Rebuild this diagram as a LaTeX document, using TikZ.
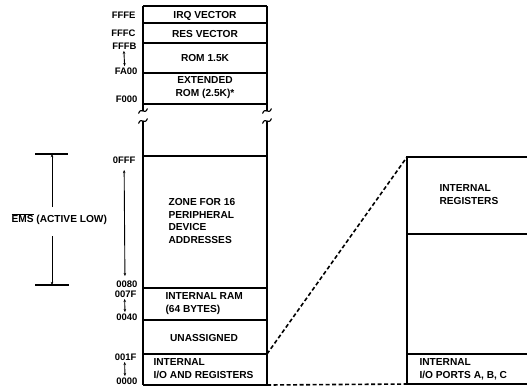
\documentclass[tikz,border=0pt]{standalone}
\usepackage{fontspec}
\setmainfont{Liberation Sans}
\usetikzlibrary{arrows.meta}
\begin{document}
\begin{tikzpicture}[x=1bp,y=-1bp,
  every path/.style={line width=1.1bp},
  txt/.style={font=\fontsize{10.2}{13}\selectfont\bfseries, inner sep=0pt},
  addr/.style={font=\fontsize{9.5}{10}\selectfont\bfseries, inner sep=0pt, anchor=east},
  dbl/.style={{Stealth[length=3.2bp,width=2.6bp]}-{Stealth[length=3.2bp,width=2.6bp]}, line width=0.9bp},
  sgl/.style={-{Stealth[length=3.2bp,width=2.6bp]}, line width=0.9bp},
  dashln/.style={dash pattern=on 4bp off 2.5bp, line width=1.6bp},
  brk/.pic={\draw[line width=1.1bp] (-4.5,2.5) .. controls (-1.5,-5) and (1.5,5) .. (4.5,-2.5);}
]
\useasboundingbox (0,0) rectangle (527,388);

% main column coordinates
\coordinate (tl) at (143,6);   \coordinate (tr) at (267,6);
\coordinate (bl) at (143,385); \coordinate (br) at (267,385);
\coordinate (l1) at (143,111); \coordinate (r1) at (267,111);
\coordinate (l2) at (143,121); \coordinate (r2) at (267,121);

% outer sides with break
\draw (tl) -- (l1);
\draw (tr) -- (r1);
\draw (l2) -- (bl);
\draw (r2) -- (br);
\pic at (l1) {brk};
\pic at (r1) {brk};
\pic at (l2) {brk};
\pic at (r2) {brk};
\draw (tl) -- (tr);
\draw (bl) -- (br);

% horizontal dividers
\foreach \y/\n in {23/a,43/b,73/c,104/d,156/e,288/f,320/g,354/h}{
  \coordinate (dl\n) at (143,\y); \coordinate (dr\n) at (267,\y);
  \draw (dl\n) -- (dr\n);
}

% box texts
\node[txt] (irq) at (205,15.5) {IRQ VECTOR};
\node[txt] (res) at (205,33.5) {RES VECTOR};
\node[txt] (rom) at (205,57.5) {ROM 1.5K};
\node[txt, align=center] (ext) at (205,88) {EXTENDED\\ROM (2.5K)*};
\node[txt, align=left, anchor=west, font=\fontsize{10.2}{12.7}\selectfont\bfseries] (zone) at (168,221) {ZONE FOR 16\\PERIPHERAL\\DEVICE\\ADDRESSES};
\node[txt, align=left, anchor=west] (ram) at (165,303.5) {INTERNAL RAM\\(64 BYTES)};
\node[txt] (unas) at (204,338) {UNASSIGNED};
\node[txt, align=left, anchor=west] (io) at (153,368.5) {INTERNAL\\I/O AND REGISTERS};

% addresses
\node[addr] (aFFFE) at (136,15) {FFFE};
\node[addr] (aFFFC) at (136,33) {FFFC};
\node[addr] (aFFFB) at (137,46) {FFFB};
\node[addr] (aFA00) at (138,71) {FA00};
\node[addr] (aF000) at (138,99) {F000};
\node[addr] (a0FFF) at (136,160) {0FFF};
\node[addr] (a0080) at (138,284) {0080};
\node[addr] (a007F) at (137,294) {007F};
\node[addr] (a0040) at (138,317) {0040};
\node[addr] (a001F) at (137,357) {001F};
\node[addr] (a0000) at (138,381) {0000};

\draw[dbl] ([xshift=-0.5bp,yshift=-1bp]aFFFB.south) -- ([xshift=-1.5bp,yshift=1bp]aFA00.north);
\draw[dbl] ([xshift=-1bp,yshift=-1bp]a007F.south) -- ([xshift=-2bp,yshift=1bp]a0040.north);
\draw[dbl] ([xshift=-1bp,yshift=-1bp]a001F.south) -- ([xshift=-2bp,yshift=1bp]a0000.north);
\draw[dbl] ([xshift=0bp,yshift=-6bp]a0FFF.south) -- ([xshift=-2bp,yshift=4bp]a0080.north);

% EMS
\coordinate (et1) at (35,154); \coordinate (et2) at (68,154);
\coordinate (eb1) at (35,285); \coordinate (eb2) at (69,285);
\coordinate (etop) at (52,154); \coordinate (ebot) at (52,285);
\draw (et1) -- (et2);
\draw (eb1) -- (eb2);
\node[txt, anchor=west] (ems) at (11,219) {$\overline{\hbox{EMS}}$ (ACTIVE LOW)};
\draw[sgl] (52,207) coordinate (ea) -- (etop);
\draw[sgl] (52,236) coordinate (eb) -- (ebot);

% right box
\coordinate (q1) at (407,157); \coordinate (q1r) at (527,157);
\coordinate (q2) at (407,234); \coordinate (q2r) at (527,234);
\coordinate (q3) at (407,354); \coordinate (q3r) at (527,354);
\coordinate (q4) at (407,384); \coordinate (q4r) at (527,384);
\draw (q1r) -- (q1) -- (q4) -- (q4r);
\draw (q2) -- (q2r);
\draw (q3) -- (q3r);
\node[txt, align=left, anchor=west] (ireg) at (439,194.5) {INTERNAL\\REGISTERS};
\node[txt, align=left, anchor=west] (iop) at (419,369.5) {INTERNAL\\I/O PORTS A, B, C};

% dashed connectors
\draw[dashln] (drh) -- (q1);
\draw[dashln] (br) -- (q4);
\end{tikzpicture}
\end{document}
